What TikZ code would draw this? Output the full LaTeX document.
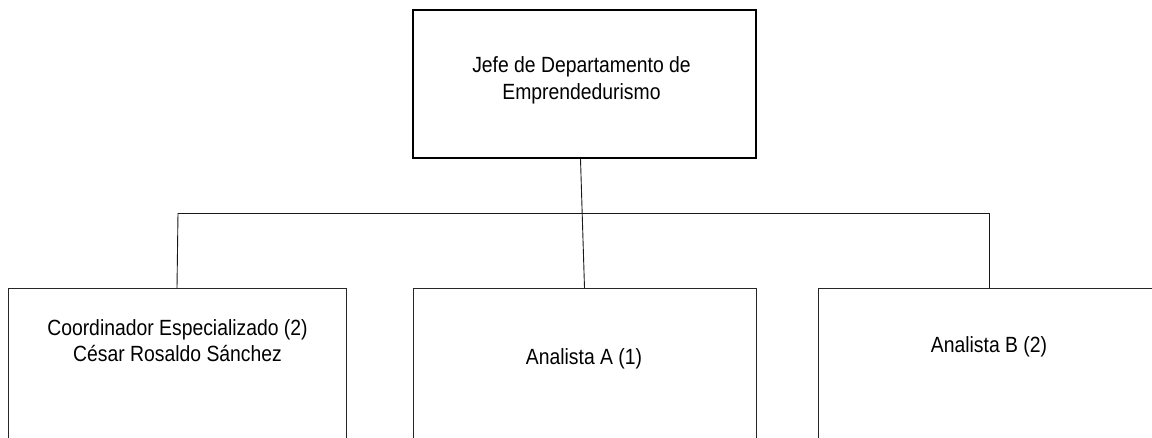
\documentclass[tikz,border=0pt]{standalone}
\usepackage{fontspec}
\setmainfont[FakeStretch=0.88]{Liberation Sans}
\usetikzlibrary{calc}
\begin{document}
\begin{tikzpicture}[x=1pt,y=-1pt,
  boxstyle/.style={draw=black!85,line width=0.9pt,rectangle,inner sep=0pt,anchor=north},
  headbox/.style={draw=black,line width=2pt,rectangle,inner sep=0pt,anchor=north},
  lbl/.style={inner sep=0pt,align=center,font=\fontsize{22}{26.5}\selectfont},
  conn/.style={draw=black!90,line width=0.9pt}]
\useasboundingbox (0,0) rectangle (1152,437);
\clip (0,0) rectangle (1152,437);
\fill[white] (0,0) rectangle (1152,437);
% boxes
\node[headbox,minimum width=343pt,minimum height=148pt] (jefe) at (584.5,9) {};
\node[boxstyle,minimum width=338pt,minimum height=300pt] (coord) at (177,288) {};
\node[boxstyle,minimum width=343pt,minimum height=300pt] (anaA) at (584.5,288) {};
\node[boxstyle,minimum width=342pt,minimum height=300pt] (anaB) at (989,288) {};
% labels
\node[lbl] (tjefe) at (581.5,80.5) {Jefe de Departamento de\\Emprendedurismo};
\node[lbl] (tcoord) at (177.5,340.5) {Coordinador Especializado (2)\\César Rosaldo Sánchez};
\node[lbl,anchor=base] (tanaA) at (584,364) {Analista A (1)};
\node[lbl,anchor=base] (tanaB) at (989,352) {Analista B (2)};
% connectors
\coordinate (busL) at (178,213);
\coordinate (busR) at (989,213);
\draw[conn] ($(jefe.south)+(-4,0)$) -- (anaA.north);
\draw[conn] (busL) -- (busR);
\draw[conn] (busL) -- (coord.north);
\draw[conn] (busR) -- (anaB.north);
\end{tikzpicture}
\end{document}
